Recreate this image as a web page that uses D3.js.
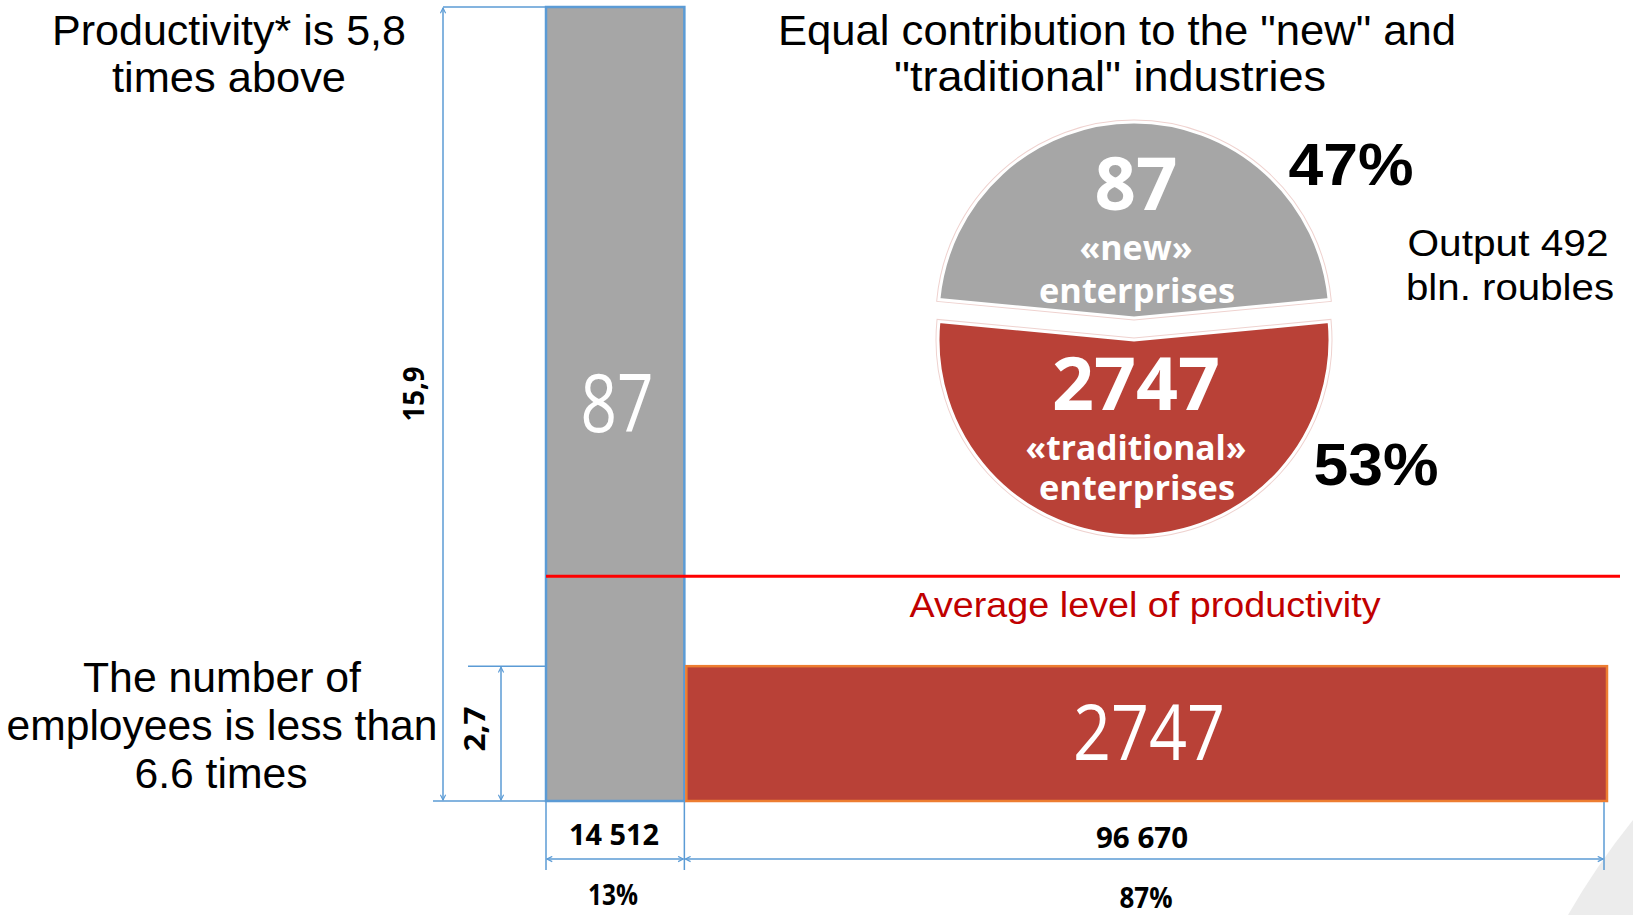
<!DOCTYPE html>
<html>
<head>
<meta charset="utf-8">
<script src="https://cdn.jsdelivr.net/npm/d3@7"></script>
<style>
  body { margin: 0; background: #fff; }
  svg { display: block; }
  .helv { font-family: "Liberation Sans", Arial, sans-serif; }
  .lbl { font-family: "Open Sans", "Noto Sans", sans-serif; }
</style>
</head>
<body>
<svg id="chart" width="1633" height="915"></svg>
<script>
// groups of enterprises: "new" vs "traditional"
const groups = ["new", "traditional"]
const groupNames = ["«new»", "«traditional»"]
const enterprises = [87, 2747]
const employees = [14512, 96670]        // people employed
const productivity = [15.9, 2.7]        // mln roubles per employee
const outputShare = [47, 53]            // % of output
const employeeShare = [13, 87]          // % of employees
const avgProductivity = 4.5
const totalOutput = 492

var svg = d3.select("#chart")

var blue = "#5b9bd5",
    gray = "#a6a6a6",
    red = "#b94137"

var totalEmp = d3.sum(employees)

var x = d3.scaleLinear()
    .domain([0, totalEmp])
    .range([546, 1606])

var y = d3.scaleLinear()
    .domain([0, d3.max(productivity)])
    .range([801, 7])

const fmtNum = n => d3.format(",")(n).replace(/,/g, " ")
const fmtDec = n => String(n).replace(".", ",")

// squeeze/stretch text to a given width
function fit(sel, len) {
  return sel.attr("textLength", len).attr("lengthAdjust", "spacingAndGlyphs")
}

// arrow marker for the dimension lines
var defs = svg.append("defs")
defs.append("marker")
    .attr("id", "arr")
    .attr("viewBox", "0 0 8 8")
    .attr("refX", 7).attr("refY", 4)
    .attr("markerWidth", 7).attr("markerHeight", 7)
    .attr("markerUnits", "userSpaceOnUse")
    .attr("orient", "auto-start-reverse")
  .append("path")
    .attr("d", "M1,1 L7,4 L1,7")
    .attr("fill", "none")
    .attr("stroke", blue)
    .attr("stroke-width", 1.3)

// decorative corner
svg.append("path")
    .attr("d", "M1568,915 Q1596,866 1633,820 L1633,915 Z")
    .attr("fill", "#ececec")

// ---- bars (width = employees, height = productivity)
var x0 = [0, employees[0]]
var bars = svg.append("g")

bars.append("rect")
    .attr("x", x(0))
    .attr("y", y(productivity[0]))
    .attr("width", x(employees[0]) - x(0))
    .attr("height", y(0) - y(productivity[0]))
    .attr("fill", gray)
    .attr("stroke", blue)
    .attr("stroke-width", 2.5)

bars.append("rect")
    .attr("x", x(x0[1]) + 2)
    .attr("y", y(productivity[1]))
    .attr("width", x(totalEmp) - x(x0[1]) - 1)
    .attr("height", y(0) - y(productivity[1]))
    .attr("fill", red)
    .attr("stroke", "#ed7d31")
    .attr("stroke-width", 2.5)

bars.append("text")
    .attr("class", "lbl")
    .attr("x", 617)
    .attr("y", 432)
    .attr("text-anchor", "middle")
    .attr("fill", "#fff")
    .attr("font-size", 80)
    .text(enterprises[0])
    .call(fit, 73)

bars.append("text")
    .attr("class", "lbl")
    .attr("x", 1149)
    .attr("y", 760)
    .attr("text-anchor", "middle")
    .attr("fill", "#fff")
    .attr("font-size", 77)
    .text(enterprises[1])
    .call(fit, 152)

// average productivity line
svg.append("line")
    .attr("x1", x(0)).attr("x2", 1620)
    .attr("y1", y(avgProductivity)).attr("y2", y(avgProductivity))
    .attr("stroke", "#ff0000")
    .attr("stroke-width", 3)

svg.append("text")
    .attr("class", "helv")
    .attr("x", 1145).attr("y", 617)
    .attr("text-anchor", "middle")
    .attr("fill", "#c00000")
    .attr("font-size", 35)
    .text("Average level of productivity")
    .call(fit, 471)

// ---- dimension lines
var dim = svg.append("g")
    .attr("stroke", blue)
    .attr("stroke-width", 1.5)
    .attr("fill", "none")

// vertical: productivity of "new"
dim.append("line").attr("x1", 443).attr("x2", x(0)).attr("y1", y(productivity[0])).attr("y2", y(productivity[0]))
dim.append("line").attr("x1", 433).attr("x2", x(0)).attr("y1", y(0)).attr("y2", y(0))
dim.append("line")
    .attr("x1", 443).attr("x2", 443)
    .attr("y1", y(productivity[0]) + 1).attr("y2", y(0) - 1)
    .attr("marker-start", "url(#arr)").attr("marker-end", "url(#arr)")

// vertical: productivity of "traditional"
dim.append("line").attr("x1", 468).attr("x2", x(0)).attr("y1", y(productivity[1])).attr("y2", y(productivity[1]))
dim.append("line")
    .attr("x1", 501).attr("x2", 501)
    .attr("y1", y(productivity[1]) + 1).attr("y2", y(0) - 1)
    .attr("marker-start", "url(#arr)").attr("marker-end", "url(#arr)")

// horizontal: employees
var edges = [0, employees[0], totalEmp]
edges.forEach(function(v, i) {
  var xx = i === 2 ? x(v) - 2 : x(v)
  dim.append("line")
      .attr("x1", xx).attr("x2", xx)
      .attr("y1", y(0) + 1).attr("y2", 870)
})
for (var i = 0; i < 2; i++) {
  var a = x(edges[i]) + 1, b = (i === 1 ? x(edges[i + 1]) - 2 : x(edges[i + 1])) - 1
  dim.append("line")
      .attr("x1", a).attr("x2", b)
      .attr("y1", 859).attr("y2", 859)
      .attr("marker-start", "url(#arr)").attr("marker-end", "url(#arr)")
}

// dimension labels
var dimLbl = svg.append("g")
    .attr("class", "lbl")
    .attr("font-weight", 700)
    .attr("fill", "#000")
    .attr("text-anchor", "middle")

dimLbl.append("text")
    .attr("transform", "translate(424,394) rotate(-90)")
    .attr("font-size", 28)
    .text(fmtDec(productivity[0]))
    .call(fit, 55)

dimLbl.append("text")
    .attr("transform", "translate(485,729) rotate(-90)")
    .attr("font-size", 28)
    .text(fmtDec(productivity[1]))
    .call(fit, 45)

var empLblX = [614, 1142], empLblY = [845, 848], empW = [90, 92]
var shareLblX = [613, 1146], shareLblY = [905, 908], shareW = [50, 53]
employees.forEach(function(e, i) {
  dimLbl.append("text")
      .attr("x", empLblX[i]).attr("y", empLblY[i])
      .attr("font-size", 28)
      .text(fmtNum(e))
      .call(fit, empW[i])
  dimLbl.append("text")
      .attr("x", shareLblX[i]).attr("y", shareLblY[i])
      .attr("font-size", 28)
      .text(employeeShare[i] + "%")
      .call(fit, shareW[i])
})

// ---- side notes
var notes = svg.append("g")
    .attr("class", "helv")
    .attr("font-size", 42)
    .attr("fill", "#000")
    .attr("text-anchor", "middle")

var noteLines = [
  ["Productivity* is 5,8", 229, 45, 354],
  ["times above", 229, 92, 234],
  ["The number of", 222, 692, 278],
  ["employees is less than", 222, 740, 431],
  ["6.6 times", 221, 788, 173],
  ["Equal contribution to the \"new\" and", 1117, 45, 678],
  ["\"traditional\" industries", 1110, 91, 432]
]
noteLines.forEach(function(l) {
  notes.append("text")
      .attr("x", l[1]).attr("y", l[2])
      .text(l[0])
      .call(fit, l[3])
})

notes.append("text")
    .attr("x", 1508).attr("y", 256)
    .attr("font-size", 36)
    .text("Output " + totalOutput)
    .call(fit, 201)
notes.append("text")
    .attr("x", 1510).attr("y", 300)
    .attr("font-size", 36)
    .text("bln. roubles")
    .call(fit, 208)

// ---- pie of output shares
var cx = 1134, cy = 329, R = 196, explode = 11

var pie = d3.pie()
    .sort(null)
    .value(d => d)
    .startAngle(-Math.PI * outputShare[0] / 100)
    .endAngle(2 * Math.PI - Math.PI * outputShare[0] / 100)

var arc = d3.arc().innerRadius(0).outerRadius(R)
var slices = pie(outputShare)
var pieColor = [gray, red]

var pieG = svg.append("g")
    .attr("transform", "translate(" + cx + "," + cy + ")")

var sliceG = pieG.selectAll("g.slice")
    .data(slices)
    .enter().append("g")
    .attr("class", "slice")
    .attr("transform", function(d) {
      var m = (d.startAngle + d.endAngle) / 2
      return "translate(" + (Math.sin(m) * explode) + "," + (-Math.cos(m) * explode) + ")"
    })

sliceG.append("path")
    .attr("d", arc)
    .attr("fill", (d, i) => pieColor[i])
    .attr("stroke", "#efd2cf")
    .attr("stroke-width", 5)
sliceG.append("path")
    .attr("d", arc)
    .attr("fill", (d, i) => pieColor[i])
    .attr("stroke", "#fff")
    .attr("stroke-width", 3)

// texts inside slices (absolute baselines)
var pieTxt = svg.append("g")
    .attr("class", "lbl")
    .attr("font-weight", 700)
    .attr("fill", "#fff")
    .attr("text-anchor", "middle")

var numY = [210, 410], nameY = [260, 460], entY = [303, 500]
var numW = [83, 168], nameW = [113, 221]
groups.forEach(function(g, i) {
  pieTxt.append("text")
      .attr("x", 1136).attr("y", numY[i])
      .attr("font-size", 74)
      .text(enterprises[i])
      .call(fit, numW[i])
  pieTxt.append("text")
      .attr("x", 1136).attr("y", nameY[i])
      .attr("font-size", 34)
      .text(groupNames[i])
      .call(fit, nameW[i])
  pieTxt.append("text")
      .attr("x", 1137).attr("y", entY[i])
      .attr("font-size", 34)
      .text("enterprises")
      .call(fit, 196)
})

// percent labels next to the pie
var pctX = [1351, 1376], pctY = [185, 485]
outputShare.forEach(function(p, i) {
  svg.append("text")
      .attr("class", "helv")
      .attr("x", pctX[i]).attr("y", pctY[i])
      .attr("text-anchor", "middle")
      .attr("font-weight", 700)
      .attr("font-size", 60)
      .text(p + "%")
      .call(fit, 125)
})
</script>
</body>
</html>
